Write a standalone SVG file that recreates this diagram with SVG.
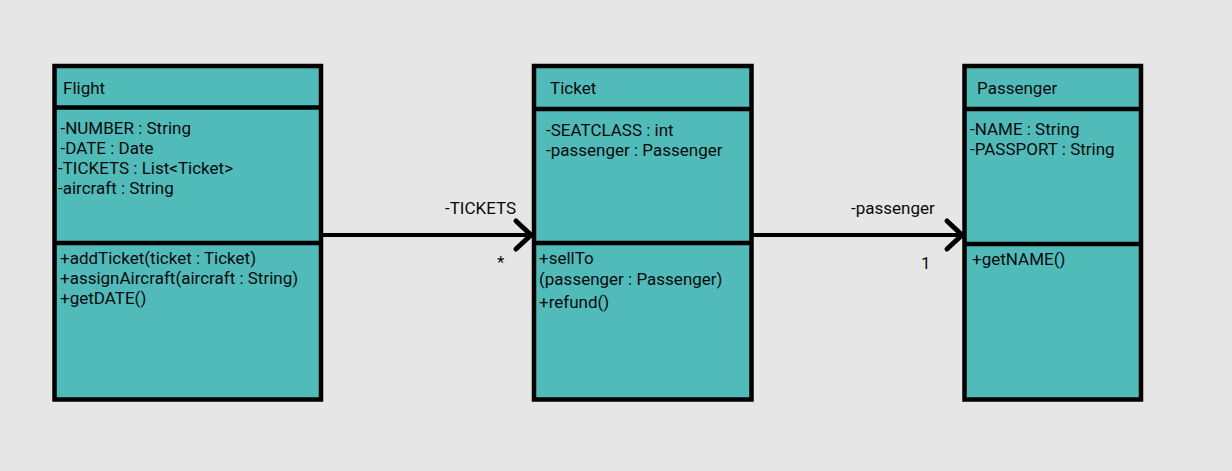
<svg xmlns="http://www.w3.org/2000/svg" width="1232" height="471" viewBox="0 0 1232 471">
<defs>
<style>
.box{fill:#51bbba;stroke:#000;stroke-width:4.5}
.sep{stroke:#000;stroke-width:4.5}
text{font-family:Roboto,"Liberation Sans",sans-serif;font-size:17px;fill:#0a0a0a}
.conn{stroke:#000;stroke-width:4;fill:none}
</style>
<marker id="open" viewBox="-20 -18 24 36" markerUnits="userSpaceOnUse" markerWidth="24" markerHeight="36" refX="0" refY="0" orient="auto">
<path d="M-15,-14 L0,0 L-15,14" fill="none" stroke="#000" stroke-width="5" stroke-linecap="round" stroke-linejoin="miter"/>
</marker>
</defs>
<rect width="1232" height="471" fill="#e6e6e6"/>
<g id="Flight">
<rect class="box" x="54.5" y="66" width="266.5" height="333.5"/>
<line class="sep" x1="54.5" y1="107.5" x2="321" y2="107.5"/>
<line class="sep" x1="54.5" y1="243" x2="321" y2="243"/>
<text x="63" y="94">Flight</text>
<text x="60.5" y="134">-NUMBER : String</text>
<text x="60.5" y="154">-DATE : Date</text>
<text x="58" y="174">-TICKETS : List&lt;Ticket&gt;</text>
<text x="58" y="194">-aircraft : String</text>
<text x="60" y="264">+addTicket(ticket : Ticket)</text>
<text x="60" y="284">+assignAircraft(aircraft : String)</text>
<text x="60" y="304">+getDATE()</text>
</g>
<g id="Ticket">
<rect class="box" x="534" y="66" width="217.5" height="333.5"/>
<line class="sep" x1="534" y1="109" x2="751.5" y2="109"/>
<line class="sep" x1="534" y1="243" x2="751.5" y2="243"/>
<text x="550" y="94">Ticket</text>
<text x="546" y="136">-SEATCLASS : int</text>
<text x="546" y="156">-passenger : Passenger</text>
<text x="539" y="264">+sellTo</text>
<text x="539" y="285">(passenger : Passenger)</text>
<text x="539" y="308">+refund()</text>
</g>
<g id="Passenger">
<rect class="box" x="964.5" y="66" width="176.5" height="333.5"/>
<line class="sep" x1="964.5" y1="109" x2="1141" y2="109"/>
<line class="sep" x1="964.5" y1="244" x2="1141" y2="244"/>
<text x="977" y="94">Passenger</text>
<text x="970" y="135">-NAME : String</text>
<text x="970" y="155">-PASSPORT : String</text>
<text x="972" y="265">+getNAME()</text>
</g>
<g id="connectors">
<line class="conn" x1="323" y1="235" x2="531" y2="235" marker-end="url(#open)"/>
<text x="445" y="214">-TICKETS</text>
<text x="497" y="268">*</text>
<line class="conn" x1="753" y1="235" x2="962" y2="235" marker-end="url(#open)"/>
<text x="851" y="214">-passenger</text>
<text x="921" y="269">1</text>
</g>
</svg>
